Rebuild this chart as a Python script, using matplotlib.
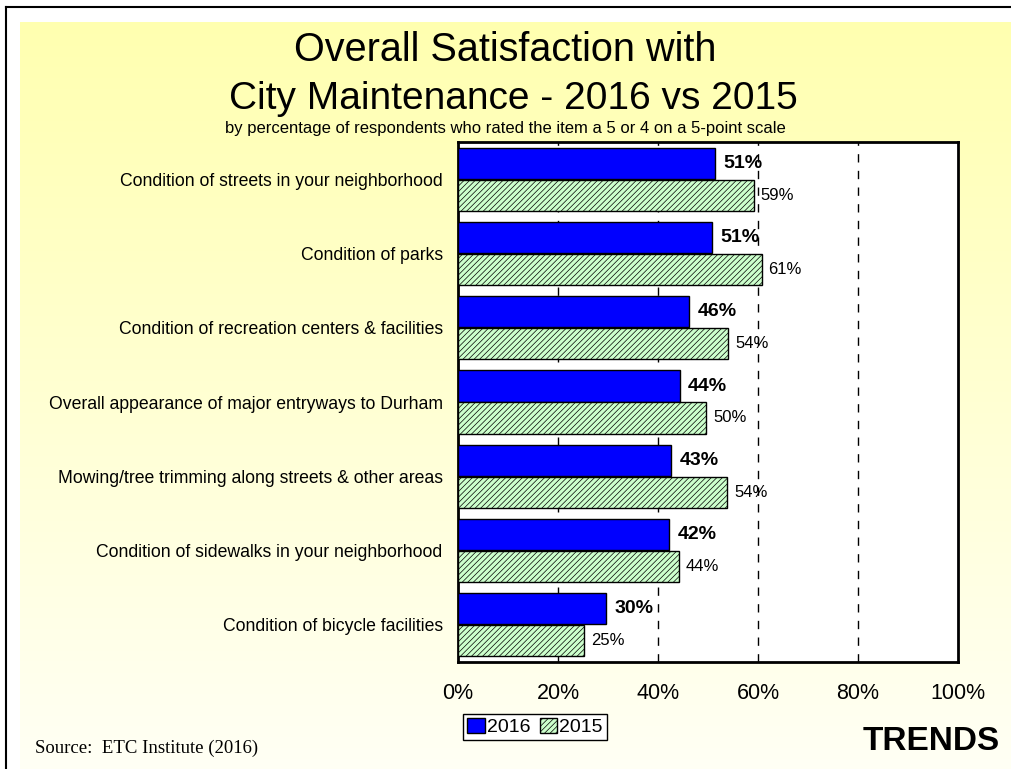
import numpy as np
import matplotlib
matplotlib.use("Agg")
import matplotlib.pyplot as plt
from matplotlib import font_manager
from matplotlib.lines import Line2D
from matplotlib.patches import Patch

# data
categories = [
    "Condition of streets in your neighborhood",
    "Condition of parks",
    "Condition of recreation centers & facilities",
    "Overall appearance of major entryways to Durham",
    "Mowing/tree trimming along streets & other areas",
    "Condition of sidewalks in your neighborhood",
    "Condition of bicycle facilities",
]
vals_2016 = [51.4, 50.7, 46.2, 44.3, 42.6, 42.2, 29.6]
vals_2015 = [59.1, 60.7, 54.0, 49.6, 53.8, 44.2, 25.2]
labels_2016 = ["51%", "51%", "46%", "44%", "43%", "42%", "30%"]
labels_2015 = ["59%", "61%", "54%", "50%", "54%", "44%", "25%"]
xticks = [0, 20, 40, 60, 80, 100]

names = {f.name for f in font_manager.fontManager.ttflist}
narrow = "Liberation Sans Narrow" if "Liberation Sans Narrow" in names else "Liberation Sans"
sans = "Liberation Sans"
plt.rcParams["font.family"] = [sans, "DejaVu Sans"]
plt.rcParams["hatch.color"] = "#77dd77"
plt.rcParams["hatch.linewidth"] = 0.5

W, H = 1011, 769
fig = plt.figure(figsize=(W / 100, H / 100), dpi=100)
fig.patch.set_facecolor("white")

# yellow gradient background
bg = fig.add_axes([20 / W, 0, 1 - 20 / W, 1 - 22 / H], zorder=-5)
grad = np.linspace(0, 1, 256)[:, None]
top = np.array([1.0, 1.0, 0.69])
bot = np.array([1.0, 1.0, 0.96])
img = top[None, None, :] * (1 - grad[..., None]) + bot[None, None, :] * grad[..., None]
bg.imshow(img, aspect="auto", extent=[0, 1, 0, 1])
bg.axis("off")

# thin frame line top/left
fig.add_artist(Line2D([6 / W, 6 / W], [0, 1 - 7 / H], color="black", lw=1.5, transform=fig.transFigure))
fig.add_artist(Line2D([6 / W, 1], [1 - 7 / H, 1 - 7 / H], color="black", lw=1.5, transform=fig.transFigure))

ax = fig.add_axes([458 / W, 1 - 662 / H, 500 / W, 520 / H])
ax.set_facecolor("white")
y = np.arange(len(categories))
h = 0.42
off = 0.215
ax.barh(y - off, vals_2016, height=h, color="#0000ff", edgecolor="black", lw=1, zorder=3, label="2016")
ax.barh(y + off, vals_2015, height=h, color="#ccffcc", edgecolor="black", lw=1, hatch="//////",
        zorder=3, label="2015")

for i in range(len(categories)):
    ax.text(vals_2016[i] + 1.7, y[i] - off, labels_2016[i], va="center", ha="left",
            fontsize=14, fontweight="bold", zorder=4)
    ax.text(vals_2015[i] + 1.4, y[i] + off, labels_2015[i], va="center", ha="left",
            fontsize=12, zorder=4)

ax.set_xlim(0, 100)
ax.set_ylim(len(categories) - 0.5, -0.5)
ax.set_xticks(xticks)
ax.set_xticklabels([f"{t}%" for t in xticks], fontsize=15.5)
ax.set_yticks(y)
ax.set_yticklabels(categories, fontsize=12.7)
ax.tick_params(axis="both", length=0)
ax.tick_params(axis="x", pad=15)
ax.tick_params(axis="y", pad=11)
for t in [20, 40, 60, 80]:
    ax.axvline(t, color="black", lw=1, ls=(0, (6, 6)), zorder=1)
for s in ax.spines.values():
    s.set_linewidth(2)

fig.text(505 / W, 1 - 50 / H, "Overall Satisfaction with", ha="center", va="center",
         fontsize=28.5, family=[narrow, "DejaVu Sans"])
fig.text(513 / W, 1 - 99 / H, "City Maintenance - 2016 vs 2015", ha="center", va="center",
         fontsize=28, family=[narrow, "DejaVu Sans"])
fig.text(505 / W, 1 - 128 / H,
         "by percentage of respondents who rated the item a 5 or 4 on a 5-point scale",
         ha="center", va="center", fontsize=12, family=[narrow, "DejaVu Sans"])

handles = [Patch(facecolor="#0000ff", edgecolor="black", label="2016"),
           Patch(facecolor="#ccffcc", edgecolor="black", hatch="//////", label="2015")]
leg = fig.legend(handles=handles, loc="center", bbox_to_anchor=(535 / W, 1 - 727 / H), ncol=2,
                 fontsize=14, frameon=True, fancybox=False, edgecolor="black", framealpha=1,
                 handlelength=0.9, handleheight=0.8, handletextpad=0.1, columnspacing=0.5,
                 borderpad=0.2, borderaxespad=0)
leg.get_frame().set_linewidth(1)

fig.text(35 / W, 1 - 748 / H, "Source:  ETC Institute (2016)", ha="left", va="center",
         fontsize=13.5, family=["Liberation Serif", "DejaVu Serif"])
fig.text(1000 / W, 1 - 742 / H, "TRENDS", ha="right", va="center", fontsize=24, fontweight="bold")

fig.savefig("out.png", dpi=100, facecolor=fig.get_facecolor())
